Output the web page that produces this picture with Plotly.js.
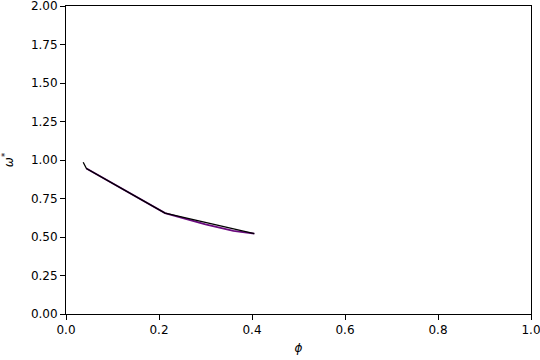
<!DOCTYPE html>
<html><head><meta charset="utf-8">
<script src="https://cdn.plot.ly/plotly-3.0.1.min.js"></script>
<style>body{margin:0;padding:0;background:#fff}#chart{width:540px;height:360px}</style>
</head><body><div id="chart"></div>
<script>
const blackX = [0.037, 0.044, 0.213, 0.405];
const blackY = [0.985, 0.945, 0.655, 0.522];
const purpleX = [0.044, 0.213, 0.30, 0.36, 0.405];
const purpleY = [0.945, 0.655, 0.582, 0.540, 0.522];
const xTicks = [0, 0.2, 0.4, 0.6, 0.8, 1.0];
const xTickText = ['0.0', '0.2', '0.4', '0.6', '0.8', '1.0'];
const yTicks = [0, 0.25, 0.5, 0.75, 1.0, 1.25, 1.5, 1.75, 2.0];
const yTickText = ['0.00', '0.25', '0.50', '0.75', '1.00', '1.25', '1.50', '1.75', '2.00'];

const font = {family: 'DejaVu Sans', size: 12, color: '#000'};
const traces = [
  {x: purpleX, y: purpleY, mode: 'lines', line: {color: '#6a0a7e', width: 1.8}, showlegend: false, hoverinfo: 'skip'},
  {x: blackX, y: blackY, mode: 'lines', line: {color: '#000000', width: 1.3}, showlegend: false, hoverinfo: 'skip'}
];
const axisCommon = {showgrid: false, zeroline: false, showline: true, linecolor: '#000', linewidth: 1, mirror: true,
  ticks: 'outside', ticklen: 5, tickwidth: 1, tickcolor: '#000', tickfont: font, automargin: false,
  ticklabeloverflow: 'allow'};
const layout = {
  width: 540, height: 360,
  margin: {l: 66, r: 9, t: 6, b: 46},
  paper_bgcolor: '#fff', plot_bgcolor: '#fff',
  font: font,
  xaxis: Object.assign({}, axisCommon, {range: [0, 1], tickvals: xTicks, ticktext: xTickText,
    title: {text: '<i>ϕ</i>', font: font, standoff: 7}}),
  yaxis: Object.assign({}, axisCommon, {range: [0, 2.0001], tickvals: yTicks, ticktext: yTickText,
    title: {text: '<i>ω</i><sup>*</sup>', font: font, standoff: 15}})
};
Plotly.newPlot('chart', traces, layout, {staticPlot: true, displayModeBar: false});
</script></body></html>
